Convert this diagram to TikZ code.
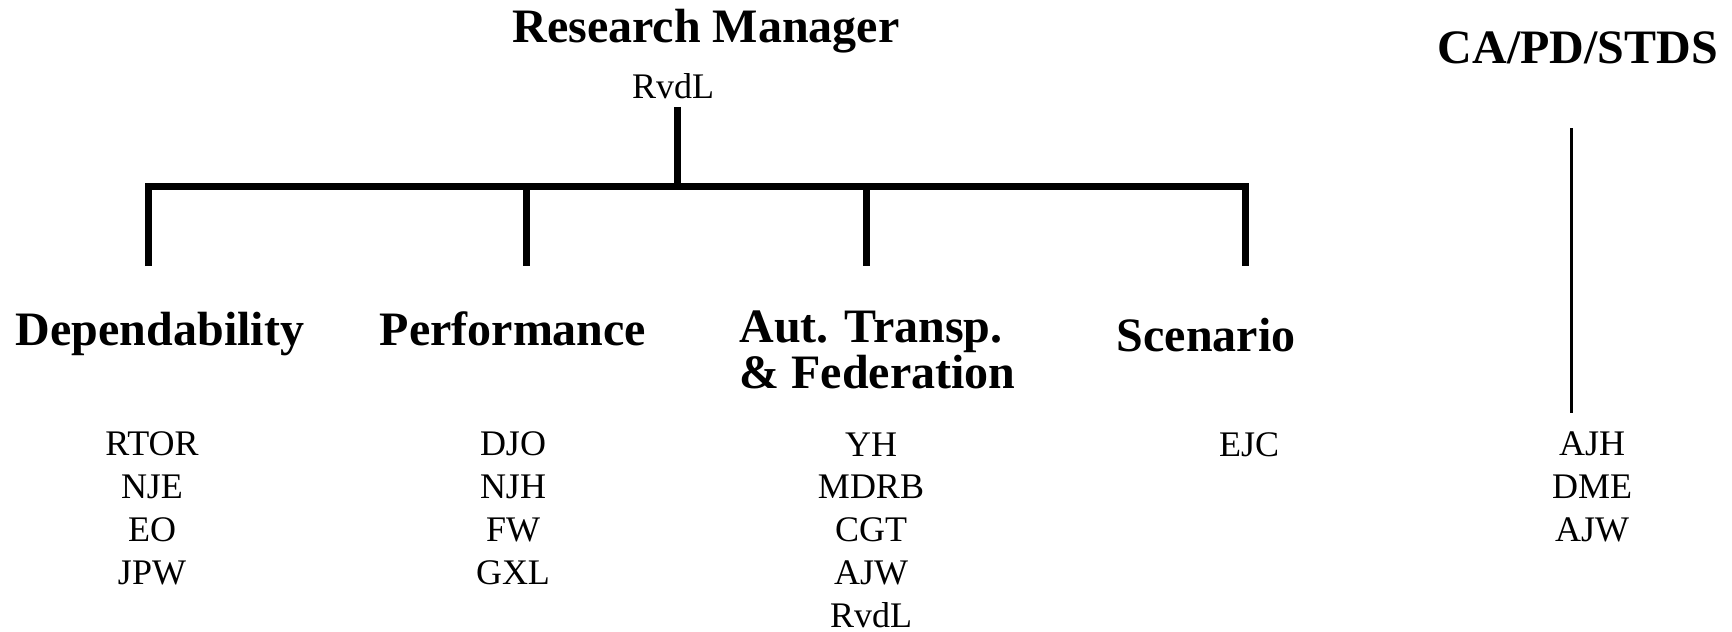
\documentclass[tikz,border=0pt]{standalone}
\usepackage{fontspec}
\setmainfont{Liberation Serif}
\usepackage{tikz}

\begin{document}
\begin{tikzpicture}[x=0.5pt, y=-0.5pt,
                    every node/.style={inner sep=0pt, anchor=base},
                    head/.style={font=\fontsize{24}{18.5}\selectfont\bfseries, align=left},
                    people/.style={font=\fontsize{18}{21.35}\selectfont, align=center},
                    bar/.style={line width=3.5pt, miter limit=10}]
                    \useasboundingbox (0,0) rectangle (1732,631);

                    % base of a node with several lines is its last line
                    \node[head] (rm) at (706,43) {Research Manager};
                    \node[people] (rmname) at (673,98) {RvdL};
                    \node[head] (ca) at (1578,64) {CA/PD/STDS};

                    \node[head] (dep) at (160,345) {Dependability};
                    \node[head] (perf) at (513,345) {Performance};
                    \node[head, anchor=base west] (aut) at (739,388) {Aut. Transp.\\\& Federation};
                    \node[head] (scen) at (1206,351) {Scenario};

                    \node[people] (depnames) at (152,584) {RTOR\\NJE\\EO\\JPW};
                    \node[people] (perfnames) at (513,584) {DJO\\NJH\\FW\\GXL};
                    \node[people] (autnames) at (871,627) {YH\\MDRB\\CGT\\AJW\\RvdL};
                    \node[people] (scennames) at (1249,456) {EJC};
                    \node[people] (canames) at (1592,541) {AJH\\DME\\AJW};

                    \coordinate (top) at (677,107);
                    \coordinate (hub) at (677,186.5);
                    \coordinate (t1) at (148.5,266);
                    \coordinate (t2) at (526,266);
                    \coordinate (t3) at (866.5,266);
                    \coordinate (t4) at (1245,266);
                    \coordinate (catop) at (1571,128);
                    \coordinate (cabot) at (1571,413);

                    \draw[bar] (top) -- (hub);
                    \draw[bar] (t1) -- (t1 |- hub) -- (t4 |- hub) -- (t4);
                    \draw[bar] (t2 |- hub) -- (t2);
                    \draw[bar] (t3 |- hub) -- (t3);
                    \draw[line width=1.5pt] (catop) -- (cabot);
                \end{tikzpicture}
\end{document}
